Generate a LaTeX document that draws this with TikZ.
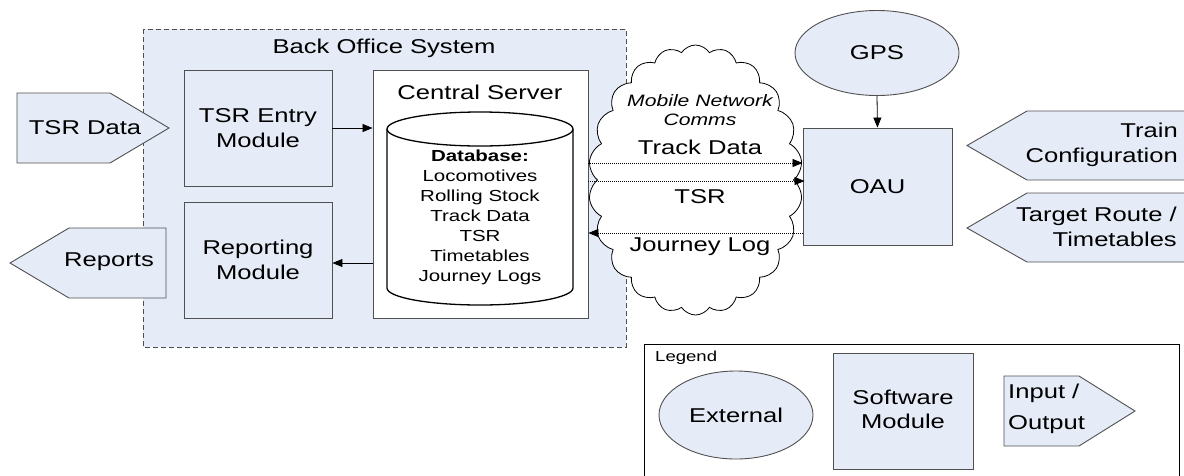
\documentclass[tikz,border=0pt]{standalone}
\usepackage{fontspec}
\setmainfont[FakeStretch=1.28]{Liberation Sans}
\usetikzlibrary{arrows.meta,shapes.symbols,shapes.geometric}
\definecolor{lblue}{RGB}{230,236,247}
\definecolor{bord}{RGB}{80,80,80}
\begin{document}
\begin{tikzpicture}[x=1pt,y=-1pt,
  modbox/.style={draw=bord,fill=lblue,line width=0.9pt},
  io/.style={draw=bord,fill=lblue,line width=0.9pt},
  lbl/.style={font=\fontsize{20}{25}\selectfont,align=center,inner sep=0pt},
  arr/.style={-{Triangle[length=10pt,width=8pt]},line width=0.8pt},
  dotarr/.style={-{Triangle[length=10pt,width=8pt]},line width=0.8pt,dash pattern=on 1pt off 1pt}]
\useasboundingbox (0,0) rectangle (1184,475);
\clip (0,0) rectangle (1184,475);
% Back office
\draw[dash pattern=on 5pt off 3pt,draw=bord,fill=lblue,line width=0.9pt] (143,29) rectangle (626,347);
\node[lbl] (bos) at (384,48) {Back Office System};
% Modules
\node[modbox,minimum width=148pt,minimum height=116pt,inner sep=0pt] (tsre) at (258,128) {};
\node[lbl] at (tsre.center) {TSR Entry\\Module};
\node[modbox,minimum width=148pt,minimum height=116pt,inner sep=0pt] (rep) at (258,260) {};
\node[lbl] at (rep.center) {Reporting\\Module};
% Central server
\node[draw=bord,fill=white,line width=0.9pt,minimum width=215pt,minimum height=248pt,inner sep=0pt] (cs) at (480.5,194) {};
\node[lbl] (cstitle) at (480,92) {Central Server};
% Cylinder
\draw[line width=1.3pt,fill=white] (387,129) -- (387,288) arc[start angle=180,end angle=0,x radius=93,y radius=17] -- (573,129);
\draw[line width=1.3pt,fill=white] (480,129) ellipse[x radius=93,y radius=17];
\node[font=\fontsize{16}{20}\selectfont,align=center,inner sep=0pt] (db) at (480,217) {\textbf{Database:}\\Locomotives\\Rolling Stock\\Track Data\\TSR\\Timetables\\Journey Logs};
% Cloud
\node[cloud,draw=black,fill=white,line width=0.8pt,cloud puffs=22,cloud puff arc=115,aspect=0.78,minimum width=214pt,minimum height=270pt,inner sep=0pt] (cloud) at (695.5,180) {};
\node[font=\fontsize{16.5}{19}\selectfont\itshape,align=center,inner sep=0pt] (mnc) at (700,110) {Mobile Network\\Comms};
\node[lbl] (tdl) at (700,147) {Track Data};
\node[lbl] (tsrl) at (700,197) {TSR};
\node[lbl] (jll) at (700,247) {Journey Log};
% OAU and GPS
\node[modbox,minimum width=149pt,minimum height=117pt,inner sep=0pt] (oau) at (877.5,186.5) {};
\node[lbl] at (oau.center) {OAU};
\node[ellipse,draw=bord,fill=lblue,line width=0.9pt,minimum width=164pt,minimum height=85pt,inner sep=0pt] (gps) at (877,53) {};
\node[lbl] at (gps.center) {GPS};
\draw[arr] (gps.south) -- (oau.north);
% connectors
\draw[arr] (tsre.east) -- (cs.west |- tsre.east);
\draw[arr] (cs.west |- 0,263) -- (rep.east |- 0,263);
\draw[dotarr] (cs.east |- 0,163) -- (oau.west |- 0,163);
\draw[dotarr] (cs.east |- 0,181) -- ([xshift=2pt]oau.west |- 0,181);
\draw[dotarr] (oau.west |- 0,233) -- (cs.east |- 0,233);
% IO shapes
\draw[io] (17,93) -- (110,93) -- (169,128) -- (110,163) -- (17,163) -- cycle;
\node[lbl] (tsrd) at (85,128) {TSR Data};
\draw[io] (166,228) -- (69,228) -- (10,263) -- (69,298) -- (166,298) -- cycle;
\node[lbl] (reports) at (109,262) {Reports};
\draw[io] (1190,111) -- (1027,111) -- (967,145.5) -- (1027,180) -- (1190,180);
\node[lbl,align=right,anchor=east] (tc) at (1178,145) {Train\\Configuration};
\draw[io] (1190,193) -- (1027,193) -- (967,228) -- (1027,262) -- (1190,262);
\node[lbl,align=right,anchor=east] (tr) at (1177,227) {Target Route /\\Timetables};
% Legend
\draw[draw=black,line width=0.9pt] (644,480) -- (644,344) -- (1179,344) -- (1179,480);
\node[font=\fontsize{14.5}{16}\selectfont,anchor=north west,inner sep=0pt] (leg) at (655,351) {Legend};
\node[ellipse,draw=bord,fill=lblue,line width=0.9pt,minimum width=154pt,minimum height=88pt,inner sep=0pt] (ext) at (736,415) {};
\node[lbl] at (ext.center) {External};
\node[modbox,minimum width=140pt,minimum height=116pt,inner sep=0pt] (sw) at (903,411) {};
\node[lbl,font=\fontsize{20}{24}\selectfont] at (903,409) {Software\\Module};
\draw[io] (1004,376) -- (1079,376) -- (1135,411) -- (1079,446) -- (1004,446) -- cycle;
\node[lbl,font=\fontsize{20}{31}\selectfont,align=left,anchor=west] (iot) at (1008,409) {Input /\\Output};
\end{tikzpicture}
\end{document}
